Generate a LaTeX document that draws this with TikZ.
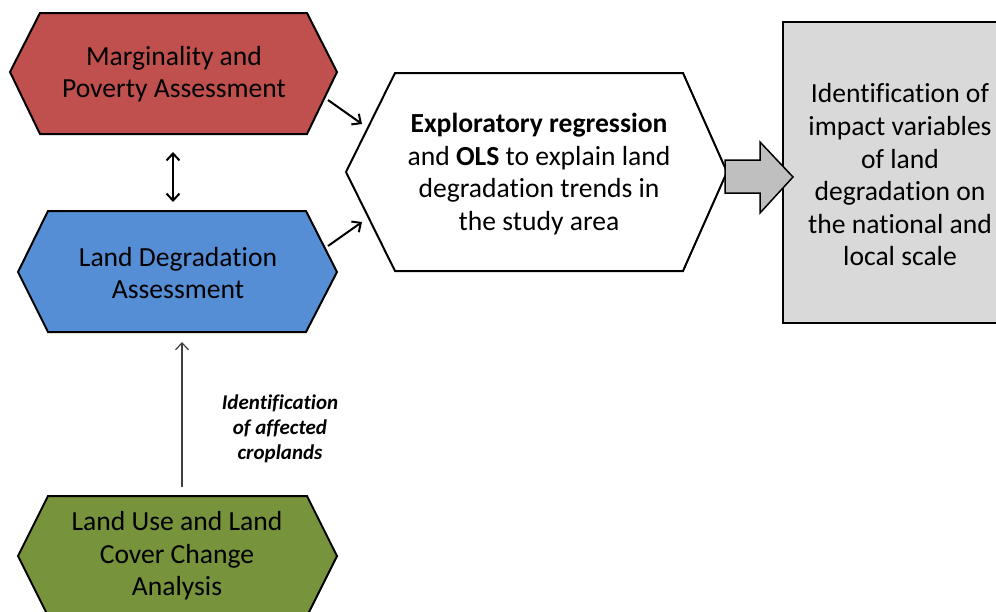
\documentclass[tikz,border=0pt]{standalone}
\usepackage{fontspec}
\setmainfont[Ligatures=NoCommon]{Carlito}
\usetikzlibrary{arrows.meta}
\definecolor{hexred}{HTML}{C0504D}
\definecolor{hexblue}{HTML}{558ED5}
\definecolor{hexgreen}{HTML}{77933C}
\definecolor{boxgray}{HTML}{D9D9D9}
\definecolor{arrowgray}{HTML}{BFBFBF}
\definecolor{thingray}{HTML}{404040}
\begin{document}
\begin{tikzpicture}[x=1pt,y=-1pt,
  shapeline/.style={draw=black, line width=2pt, line join=miter},
  maintext/.style={align=center, font=\fontsize{27.6}{32.6}\selectfont, inner sep=0pt},
  labeltext/.style={align=center, font=\fontsize{21}{25}\selectfont\bfseries\itshape, inner sep=0pt},
  flow/.style={line width=2pt, -{Straight Barb[length=7pt,width=13pt,line width=2pt]}},
  both/.style={line width=2pt, {Straight Barb[length=7pt,width=13pt,line width=2pt]}-{Straight Barb[length=7pt,width=13pt,line width=2pt]}},
  thinflow/.style={draw=thingray, line width=1.2pt, -{Straight Barb[length=7pt,width=13pt,line width=1.2pt]}}]
\useasboundingbox (0,0) rectangle (996,611);
\clip (0,0) rectangle (996,611);

% hexagonal process boxes
\draw[shapeline, fill=hexred]   (10,72) -- (40,13) -- (307,13) -- (337,72) -- (307,134) -- (40,134) -- cycle;
\draw[shapeline, fill=hexblue]  (18,272) -- (48,211) -- (306,211) -- (337,272) -- (306,332) -- (48,332) -- cycle;
\draw[shapeline, fill=hexgreen] (18,556) -- (48,496) -- (307,496) -- (337,556) -- (307,616) -- (48,616) -- cycle;
\draw[shapeline, fill=white]    (346,172) -- (395,73) -- (683,73) -- (727,172) -- (683,271) -- (395,271) -- cycle;

% result box
\draw[shapeline, fill=boxgray] (783,22) rectangle (1020,323);

% block arrow into the result box
\draw[draw=black, line width=1.5pt, fill=arrowgray, line join=miter]
  (725,160) -- (760,160) -- (760,142) -- (793,177) -- (760,213) -- (760,193) -- (725,193) -- cycle;

% texts
\node[maintext] (mpa) at (174,74) {Marginality and\\Poverty Assessment};
\node[maintext] (lda) at (178,273) {Land Degradation\\Assessment};
\node[maintext] (lucc) at (177,556) {Land Use and Land\\Cover Change\\Analysis};
\node[maintext] (ols) at (539,174) {\textbf{Exploratory regression}\\and \textbf{OLS} to explain land\\degradation trends in\\the study area};
\node[maintext] (res) at (900,175) {Identification of\\impact variables\\of land\\degradation on\\the national and\\local scale};
\node[labeltext] (crop) at (280,429) {Identification\\of affected\\croplands};

% connector end points on the box outlines
\coordinate (mpa-out) at (328,100);
\coordinate (mpa-bot) at (173,152);
\coordinate (lda-top) at (173,202);
\coordinate (lda-out) at (328,246);
\coordinate (lda-in)  at (182,342);
\coordinate (lucc-out) at (182,487);
\coordinate (ols-in1) at (362,124);
\coordinate (ols-in2) at (362,222);

% connectors
\draw[flow] (mpa-out) -- (ols-in1);
\draw[flow] (lda-out) -- (ols-in2);
\draw[both] (mpa-bot) -- (lda-top);
\draw[thinflow] (lucc-out) -- (lda-in);
\end{tikzpicture}
\end{document}
